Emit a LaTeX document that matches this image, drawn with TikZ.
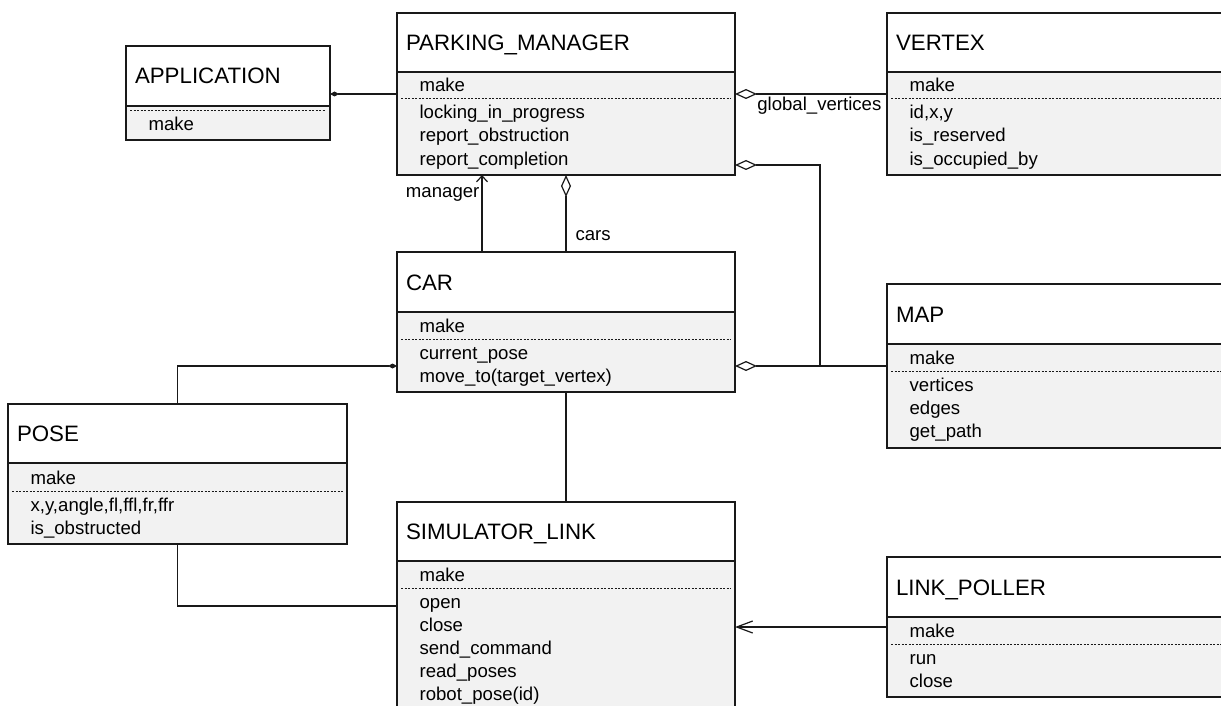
\documentclass[tikz,border=0pt]{standalone}
\usepackage{fontspec}
\setmainfont{Liberation Sans}
\usepackage{tikz}
\usetikzlibrary{arrows.meta, positioning, calc}
\definecolor{bodycolor}{RGB}{242, 242, 242}
\definecolor{edgecolor}{RGB}{25, 25, 25}
\newcommand{\titlefont}{\fontsize{22.3}{26}\selectfont}
\newcommand{\featfont}{\fontsize{18.6}{23}\selectfont}

\begin{document}
\begin{tikzpicture}[x=1pt, y=-1pt, line width=1.2pt, draw=edgecolor,
    head/.style={draw, fill=white, anchor=north west, align=left, outer sep=0pt, inner xsep=9pt, inner ysep=0pt, font=\titlefont, text height=16pt, text depth=0pt},
    body/.style={draw, fill=bodycolor, anchor=north west, outer sep=0pt, inner sep=0pt},
    feat/.style={anchor=base west, inner sep=0pt, font=\featfont},
    lbl/.style={inner sep=0pt, font=\featfont},
    dotline/.style={line width=1pt, dash pattern=on 2pt off 1.5pt},
    composition/.style={-{Diamond[length=9pt, width=5pt]}},
    aggregation/.style={-{Diamond[open, length=22pt, width=10pt]}},
    navigate/.style={-{Straight Barb[length=6pt, width=11pt]}}]
    \useasboundingbox (0, 0) rectangle (1221, 706);

    % APPLICATION
    \node[head, text width=186pt, minimum height=60pt] (app) at (126, 46) {APPLICATION};
    \node[body, minimum width=204pt, minimum height=34pt] (appb) at (app.south west) {};
    \draw[dotline] ($(appb.north west)+(4, 5)$) -- ($(appb.north east)+(-4, 5)$);
    \node[feat] (app-make) at ($(appb.north west)+(22, 25)$) {make};

    % PARKING_MANAGER
    \node[head, text width=320pt, minimum height=59pt] (pm) at (397, 13) {PARKING\_MANAGER};
    \node[body, minimum width=338pt, minimum height=103pt] (pmb) at (pm.south west) {};
    \draw[dotline] ($(pmb.north west)+(4, 27)$) -- ($(pmb.north east)+(-4, 27)$);
    \node[feat] (pm-make) at ($(pmb.north west)+(22, 20)$) {make};
    \foreach \f [count=\i] in {locking\_in\_progress, report\_obstruction, report\_completion}
        \node[feat] (pm-\i) at ($(pmb.north west)+(22, 24+23*\i)$) {\f};

    % VERTEX
    \node[head, text width=382pt, minimum height=59pt] (vtx) at (887, 13) {VERTEX};
    \node[body, minimum width=400pt, minimum height=103pt] (vtxb) at (vtx.south west) {};
    \draw[dotline] ($(vtxb.north west)+(4, 27)$) -- ($(vtxb.north east)+(-4, 27)$);
    \node[feat] (vtx-make) at ($(vtxb.north west)+(22, 20)$) {make};
    \foreach \f [count=\i] in {{id,x,y}, is\_reserved, is\_occupied\_by}
        \node[feat] (vtx-\i) at ($(vtxb.north west)+(22, 24+23*\i)$) {\f};

    % CAR
    \node[head, text width=320pt, minimum height=60pt] (car) at (397, 252) {CAR};
    \node[body, minimum width=338pt, minimum height=80pt] (carb) at (car.south west) {};
    \draw[dotline] ($(carb.north west)+(4, 27)$) -- ($(carb.north east)+(-4, 27)$);
    \node[feat] (car-make) at ($(carb.north west)+(22, 20)$) {make};
    \foreach \f [count=\i] in {current\_pose, move\_to(target\_vertex)}
        \node[feat] (car-\i) at ($(carb.north west)+(22, 24+23*\i)$) {\f};

    % MAP
    \node[head, text width=382pt, minimum height=60pt] (map) at (887, 284) {MAP};
    \node[body, minimum width=400pt, minimum height=104pt] (mapb) at (map.south west) {};
    \draw[dotline] ($(mapb.north west)+(4, 27)$) -- ($(mapb.north east)+(-4, 27)$);
    \node[feat] (map-make) at ($(mapb.north west)+(22, 20)$) {make};
    \foreach \f [count=\i] in {vertices, edges, get\_path}
        \node[feat] (map-\i) at ($(mapb.north west)+(22, 24+23*\i)$) {\f};

    % POSE
    \node[head, text width=321pt, minimum height=59pt] (pose) at (8, 404) {POSE};
    \node[body, minimum width=339pt, minimum height=81pt] (poseb) at (pose.south west) {};
    \draw[dotline] ($(poseb.north west)+(4, 28)$) -- ($(poseb.north east)+(-4, 28)$);
    \node[feat] (pose-make) at ($(poseb.north west)+(22, 21)$) {make};
    \foreach \f [count=\i] in {{x,y,angle,fl,ffl,fr,ffr}, is\_obstructed}
        \node[feat] (pose-\i) at ($(poseb.north west)+(22, 25+23*\i)$) {\f};

    % SIMULATOR_LINK
    \node[head, text width=320pt, minimum height=59pt] (sim) at (397, 502) {SIMULATOR\_LINK};
    \node[body, minimum width=338pt, minimum height=154pt] (simb) at (sim.south west) {};
    \draw[dotline] ($(simb.north west)+(4, 27)$) -- ($(simb.north east)+(-4, 27)$);
    \node[feat] (sim-make) at ($(simb.north west)+(22, 20)$) {make};
    \foreach \f [count=\i] in {open, close, send\_command, read\_poses, robot\_pose(id)}
        \node[feat] (sim-\i) at ($(simb.north west)+(22, 24+23*\i)$) {\f};

    % LINK_POLLER
    \node[head, text width=382pt, minimum height=60pt] (lp) at (887, 557) {LINK\_POLLER};
    \node[body, minimum width=400pt, minimum height=80pt] (lpb) at (lp.south west) {};
    \draw[dotline] ($(lpb.north west)+(4, 27)$) -- ($(lpb.north east)+(-4, 27)$);
    \node[feat] (lp-make) at ($(lpb.north west)+(22, 20)$) {make};
    \foreach \f [count=\i] in {run, close}
        \node[feat] (lp-\i) at ($(lpb.north west)+(22, 24+23*\i)$) {\f};

    % Relations
    \coordinate (pmtop) at ($(pmb.north west)+(0, 22)$);
    \coordinate (pmlow) at ($(pmb.north east)+(0, 93)$);
    \coordinate (carrow) at ($(carb.north west)+(0, 54)$);
    \coordinate (simrow) at ($(simb.north west)+(0, 45)$);
    \coordinate (lprow) at ($(lpb.north west)+(0, 10)$);
    \coordinate (bend) at ($(pm.east)+(85, 0)$);

    \draw[composition] (pmtop) -- (pmtop -| app.east);
    \draw[aggregation] (pmtop -| vtx.west) -- (pmtop -| pm.east);
    \node[lbl, anchor=base east] (gvlbl) at ($(pmtop -| vtx.west)+(-5, 17)$) {global\_vertices};

    \draw[aggregation] (carrow -| bend) |- (pmlow);
    \draw[aggregation] (carrow -| map.west) -- (carrow -| car.east);

    \draw[navigate] ($(car.north west)+(85, 0)$) -- ($(pmb.south west)+(85, 0)$);
    \node[lbl, anchor=base east] (mgrlbl) at ($(pmb.south west)+(83, 22)$) {manager};
    \draw[aggregation] (car.north) -- (pmb.south);
    \node[lbl, anchor=base west] (carslbl) at ($(car.north)+(9, -12)$) {cars};

    \draw[composition] (pose.north) |- (carrow);
    \draw (carb.south) -- (sim.north);
    \draw (poseb.south) |- (simrow);
    \draw[-{Straight Barb[length=16pt, width=12pt]}] (lprow) -- (lprow -| sim.east);

\end{tikzpicture}
\end{document}
